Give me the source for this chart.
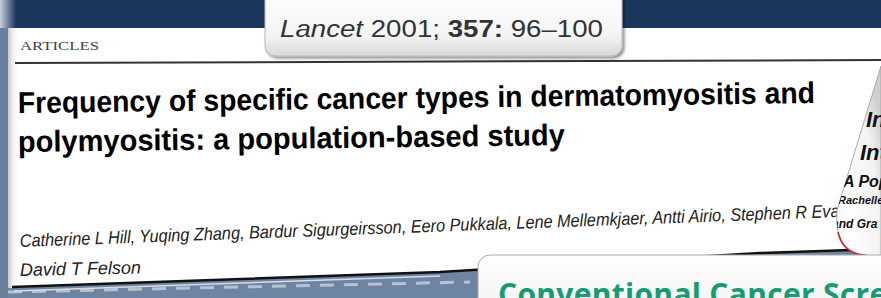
<!DOCTYPE html>
<html>
<head>
<meta charset="utf-8">
<script src="https://cdn.jsdelivr.net/npm/chart.js@4"></script>
<style>
  html,body{margin:0;padding:0;background:#6e84a3;overflow:hidden;}
  #wrap{position:relative;width:881px;height:298px;}
  svg{position:absolute;left:0;top:0;}
</style>
</head>
<body>
<div id="wrap">
<svg id="slide" width="881" height="298" viewBox="0 0 881 298"></svg>
</div>
<script>
// slide texts
const citation = ["Lancet", " 2001; ", "357:", " 96–100"];
const header = "ARTICLES";
const titleLines = [
  "Frequency of specific cancer types in dermatomyositis and",
  "polymyositis: a population-based study"
];
const authorLines = [
  "Catherine L Hill, Yuqing Zhang, Bardur Sigurgeirsson, Eero Pukkala, Lene Mellemkjaer, Antti Airio, Stephen R Evans,",
  "David T Felson"
];
const sideLines = ["In", "Int", "A Pop", "Rachelle", "and Gra"];
const nextTitle = "Conventional Cancer Screening";

function qs(id){ return document.getElementById(id); }
const NS = "http://www.w3.org/2000/svg";
function el(tag, attrs, parent, text){
  const e = document.createElementNS(NS, tag);
  for(const k in attrs) e.setAttribute(k, attrs[k]);
  if(text!=null) e.textContent = text;
  (parent||qs("slide")).appendChild(e);
  return e;
}

function draw(){
  const defs = el("defs", {});
  let g = el("linearGradient", {id:"edge", x1:0, x2:1, y1:0, y2:0}, defs);
  el("stop", {offset:0, "stop-color":"#c9d1dc"}, g);
  el("stop", {offset:1, "stop-color":"#1b365d"}, g);
  g = el("linearGradient", {id:"bevel", x1:0, x2:1, y1:0, y2:0}, defs);
  el("stop", {offset:0, "stop-color":"#c4c8cc"}, g);
  el("stop", {offset:0.5, "stop-color":"#f2f2f2"}, g);
  el("stop", {offset:1, "stop-color":"#ffffff"}, g);
  g = el("linearGradient", {id:"box", x1:0, x2:0, y1:0, y2:1}, defs);
  el("stop", {offset:0, "stop-color":"#ffffff"}, g);
  el("stop", {offset:0.7, "stop-color":"#f4f4f4"}, g);
  el("stop", {offset:1, "stop-color":"#d8d8d8"}, g);
  g = el("radialGradient", {id:"curl", cx:0.3, cy:0.85, r:0.9}, defs);
  el("stop", {offset:0, "stop-color":"#ffffff"}, g);
  el("stop", {offset:0.7, "stop-color":"#f3f3f3"}, g);
  el("stop", {offset:1, "stop-color":"#cfcfcf"}, g);
  const f = el("filter", {id:"sh", x:"-10%", y:"-10%", width:"130%", height:"140%"}, defs);
  el("feDropShadow", {dx:2, dy:2, stdDeviation:1.5, "flood-color":"#000", "flood-opacity":0.45}, f);
  const curlPath = "M881 66 L837 210 Q834 248 858 254 L881 258 Z";
  const cp = el("clipPath", {id:"curlClip"}, defs);
  el("path", {d:curlPath}, cp);

  // background
  el("rect", {x:0, y:0, width:881, height:298, fill:"#6e84a3"});
  el("rect", {x:0, y:0, width:881, height:28, fill:"#1b365d"});
  el("rect", {x:0, y:0, width:16, height:28, fill:"url(#edge)"});
  el("rect", {x:0, y:28, width:8, height:270, fill:"#6a809e"});
  // light dashed reflection under the page
  el("path", {d:"M8 292 L470 282", stroke:"#b9c3d0", "stroke-width":3, "stroke-dasharray":"14 10", fill:"none"});

  // page
  const page = "M8 28 L881 28 L881 250 L760 253 L440 272 L8 288 Z";
  el("path", {d:page, fill:"#ffffff"});
  el("rect", {x:8, y:28, width:10, height:260, fill:"url(#bevel)"});
  el("path", {d:"M12 287 L440 272 L760 253 L881 249", stroke:"#111", "stroke-width":2.5, fill:"none"});
  el("path", {d:"M14 291 L440 276", stroke:"#d9dde3", "stroke-width":1.5, fill:"none"});

  // header
  el("text", {x:20, y:50, "font-family":"Liberation Serif, serif", "font-size":12, fill:"#444",
    textLength:79, lengthAdjust:"spacingAndGlyphs"}, null, header);
  el("path", {d:"M15 63 L881 60", stroke:"#333", "stroke-width":2, fill:"none"});

  // citation box
  el("rect", {x:265, y:-12, width:357, height:68, rx:10, fill:"url(#box)", stroke:"#b8b8b8",
    "stroke-width":1, filter:"url(#sh)"});
  const ct = el("text", {x:280, y:37, "font-family":"Liberation Sans, Arial, sans-serif", "font-size":23, fill:"#333",
    textLength:323, lengthAdjust:"spacingAndGlyphs"});
  citation.forEach((c,i)=>{
    const sp = el("tspan", {}, ct, c);
    if(i===0) sp.setAttribute("font-style","italic");
    if(i===2) sp.setAttribute("font-weight","bold");
  });

  // title
  const tf = {"font-family":"Liberation Sans, Arial, sans-serif", "font-size":30, "font-weight":"bold", fill:"#000",
    lengthAdjust:"spacingAndGlyphs"};
  el("text", Object.assign({x:18, y:113, textLength:797, transform:"rotate(-0.72 18 113)"}, tf), null, titleLines[0]);
  el("text", Object.assign({x:18, y:152, textLength:547, transform:"rotate(-0.72 18 152)"}, tf), null, titleLines[1]);

  // authors
  const af = {"font-family":"Liberation Sans, Arial, sans-serif", "font-size":18, "font-style":"italic", fill:"#222"};
  el("text", Object.assign({x:20, y:247, textLength:842, lengthAdjust:"spacingAndGlyphs",
    transform:"rotate(-2.1 20 247)"}, af), null, authorLines[0]);
  el("text", Object.assign({x:20, y:276, transform:"rotate(-1.2 20 276)"}, af), null, authorLines[1]);

  // curled next page on the right
  el("path", {d:curlPath, fill:"url(#curl)", stroke:"#999", "stroke-width":0.8});
  el("path", {d:"M838 232 Q842 250 858 254 L881 258", stroke:"#c8282a", "stroke-width":1.6, fill:"none"});
  const sg = el("g", {"clip-path":"url(#curlClip)"});
  const sf = {"font-family":"Liberation Sans, Arial, sans-serif", "font-style":"italic", "font-weight":"bold", fill:"#111"};
  const sideY = [127, 160, 187, 204, 228];
  const sideX = [866, 860, 843, 838, 832];
  const sideSize = [22, 22, 16, 11, 12];
  sideLines.forEach((t,i)=>{
    el("text", Object.assign({x:sideX[i], y:sideY[i], "font-size":sideSize[i]}, sf), sg, t);
  });

  // next slide box bottom right
  el("rect", {x:478, y:255, width:420, height:70, rx:12, fill:"url(#box)", stroke:"#aaa", "stroke-width":1});
  el("text", {x:498, y:305, "font-family":"Open Sans, DejaVu Sans, sans-serif", "font-size":30, "font-weight":"bold",
    fill:"#169c72", "letter-spacing":0.3}, null, nextTitle);
}

document.addEventListener("DOMContentLoaded", draw);
</script>
</body>
</html>
